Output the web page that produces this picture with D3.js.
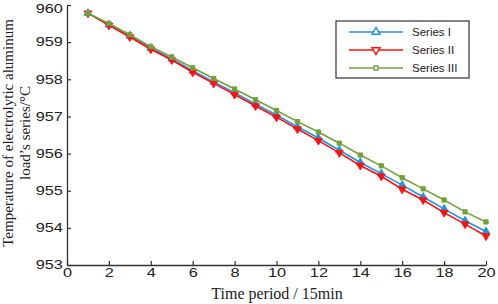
<!DOCTYPE html>
<html>
<head>
<meta charset="utf-8">
<script src="https://cdn.jsdelivr.net/npm/d3@7"></script>
<style>
  body { margin: 0; background: #fff; }
  svg { display: block; }
</style>
</head>
<body>
<svg id="chart"></svg>
<script>
const ink = "#333";

const periods = d3.range(1, 21);
const seriesNames = ["Series I", "Series II", "Series III"];
const series1 = [959.78, 959.47, 959.17, 958.84, 958.55, 958.23, 957.93, 957.64, 957.33, 957.04,
                 956.72, 956.42, 956.09, 955.76, 955.46, 955.15, 954.83, 954.51, 954.19, 953.90];
const series2 = [959.78, 959.45, 959.14, 958.81, 958.52, 958.19, 957.89, 957.59, 957.28, 956.98,
                 956.66, 956.35, 956.02, 955.68, 955.39, 955.04, 954.75, 954.41, 954.10, 953.78];
const series3 = [959.78, 959.50, 959.20, 958.88, 958.60, 958.31, 958.02, 957.74, 957.45, 957.16,
                 956.86, 956.58, 956.28, 955.96, 955.67, 955.35, 955.05, 954.75, 954.43, 954.16];
const xTicks = [0, 2, 4, 6, 8, 10, 12, 14, 16, 18, 20];
const yTicks = [953, 954, 955, 956, 957, 958, 959, 960];

const margin = { top: 5, right: 12, bottom: 39, left: 67 },
      W = 498, H = 304,
      width = W - margin.left - margin.right,
      height = H - margin.top - margin.bottom;

const svg = d3.select("#chart").attr("width", W).attr("height", H);
const g = svg.append("g").attr("transform", `translate(${margin.left},${margin.top})`);

const x = d3.scaleLinear().domain([0, 20]).range([0, width]);
const y = d3.scaleLinear().domain([953, 960]).range([height, 0]);

// Axes (ticks point inward)
const xAxis = g.append("g")
  .attr("transform", `translate(0,${height})`)
  .call(d3.axisBottom(x).tickValues(xTicks).tickFormat(d3.format("d"))
    .tickSizeInner(-4).tickSizeOuter(0).tickPadding(3));
xAxis.selectAll("text")
  .attr("transform", "scale(1.36,1)")
  .attr("dy", "0.75em");

const yAxis = g.append("g")
  .call(d3.axisLeft(y).tickValues(yTicks).tickFormat(d3.format("d"))
    .tickSizeInner(-4).tickSizeOuter(0).tickPadding(3));
yAxis.selectAll("text")
  .attr("transform", "scale(1.36,1)")
  .attr("dy", d => d === 960 ? "0.65em" : "0.32em");

g.selectAll(".domain").attr("stroke", ink).attr("stroke-width", 1.3);
g.selectAll(".tick line").attr("stroke", ink).attr("stroke-width", 1.2);
g.selectAll(".tick text")
  .attr("fill", "#222")
  .style("font-family", "'Liberation Sans', Arial, sans-serif")
  .style("font-size", "12px");

// Series
const list = [
  { name: seriesNames[0], values: series1, color: "#1f93e0", shape: d3.symbolTriangle, rot: 0 },
  { name: seriesNames[1], values: series2, color: "#ff1010", shape: d3.symbolTriangle, rot: 180 },
  { name: seriesNames[2], values: series3, color: "#73a23c", shape: d3.symbolSquare, rot: 0 }
];

const line = d3.line().x((d, i) => x(periods[i])).y(d => y(d));

list.forEach(s => {
  g.append("path")
    .datum(s.values)
    .attr("fill", "none")
    .attr("stroke", s.color)
    .attr("stroke-width", 1.6)
    .attr("d", line);
  g.selectAll(null)
    .data(s.values)
    .join("path")
    .attr("d", d3.symbol().type(s.shape).size(s.shape === d3.symbolSquare ? 18 : 26))
    .attr("transform", (d, i) => `translate(${x(periods[i])},${y(d)}) rotate(${s.rot})`)
    .attr("fill", s.color)
    .attr("stroke", s.color)
    .attr("stroke-width", 1);
});

// Axis titles
svg.append("text")
  .attr("x", 277)
  .attr("y", 299)
  .attr("text-anchor", "middle")
  .style("font-family", "'Liberation Serif', 'Times New Roman', serif")
  .style("font-size", "16px")
  .attr("fill", "#222")
  .text("Time period / 15min");

const yTitle = svg.append("text")
  .attr("transform", "translate(13,133) rotate(-90)")
  .attr("text-anchor", "middle")
  .style("font-family", "'Liberation Serif', 'Times New Roman', serif")
  .style("font-size", "15px")
  .attr("fill", "#222");
yTitle.append("tspan").attr("x", 0).attr("dy", 0).text("Temperature of electrolytic aluminum");
yTitle.append("tspan").attr("x", 0).attr("dy", 17).text("load\u2019s series/\u00B0C");

// Legend
const legend = svg.append("g").attr("transform", "translate(336,21)");
legend.append("rect")
  .attr("width", 133).attr("height", 57)
  .attr("fill", "#fff").attr("stroke", ink).attr("stroke-width", 1.2);

list.forEach((s, i) => {
  const row = legend.append("g").attr("transform", `translate(0,${11 + i * 18})`);
  row.append("line")
    .attr("x1", 13).attr("x2", 67)
    .attr("stroke", s.color).attr("stroke-width", 1.4);
  row.append("path")
    .attr("d", d3.symbol().type(s.shape).size(s.shape === d3.symbolSquare ? 16 : 28))
    .attr("transform", `translate(40,0) rotate(${s.rot})`)
    .attr("fill", "#fff")
    .attr("stroke", s.color)
    .attr("stroke-width", 1.4);
  row.append("text")
    .attr("x", 76)
    .attr("y", 4)
    .style("font-family", "'Liberation Sans', Arial, sans-serif")
    .style("font-size", "11.5px")
    .attr("fill", "#222")
    .text(s.name);
});
</script>
</body>
</html>
